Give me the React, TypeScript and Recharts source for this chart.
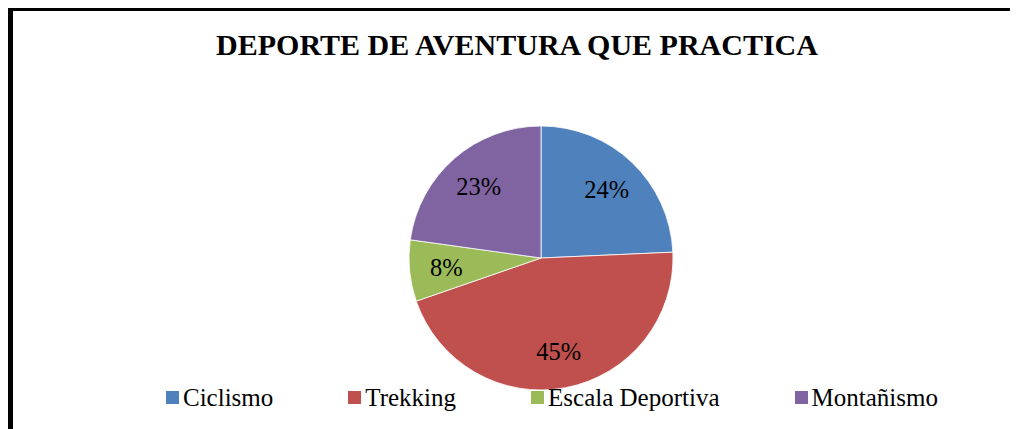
import { PieChart, Pie, Cell, Legend } from 'recharts'

const categories = ['Ciclismo', 'Trekking', 'Escala Deportiva', 'Montañismo']
const shares = [24.3, 45.4, 7.5, 22.8]
const sliceColors = ['#4F81BD', '#C0504D', '#9BBB59', '#8064A2']

const title = 'DEPORTE DE AVENTURA QUE PRACTICA'
const FONT = '"Liberation Serif", "Times New Roman", serif'

const data = categories.map((name, i) => ({ name, value: shares[i] }))

const RAD = Math.PI / 180

function renderLabel(props: any) {
  const { cx, cy, midAngle, outerRadius, percent } = props
  const r = outerRadius * 0.72
  const x = cx + r * Math.cos(-midAngle * RAD)
  const y = cy + r * Math.sin(-midAngle * RAD)
  return (
    <text
      x={x}
      y={y}
      dy="0.35em"
      textAnchor="middle"
      fill="#000"
      style={{ fontFamily: FONT, fontSize: 24.5 }}
    >
      {Math.round(percent * 100)}%
    </text>
  )
}

function renderLegend(props: any) {
  const { payload } = props
  return (
    <div style={{ display: 'flex', alignItems: 'center', paddingLeft: 158, gap: 75 }}>
      {payload.map((entry: any) => (
        <div key={entry.value} style={{ display: 'flex', alignItems: 'center' }}>
          <span style={{ width: 13, height: 13, background: entry.color, marginRight: 4 }} />
          <span style={{ fontFamily: FONT, fontSize: 25, lineHeight: '25px', color: '#000' }}>
            {entry.value}
          </span>
        </div>
      ))}
    </div>
  )
}

export default function App() {
  return (
    <div style={{ position: 'relative', width: 1010, height: 421, background: '#fff', overflow: 'hidden' }}>
      <PieChart
        width={1010}
        height={421}
        margin={{ top: 0, right: 0, bottom: 0, left: 0 }}
        style={{ position: 'absolute', left: 0, top: 0 }}
      >
        <Pie
          data={data}
          dataKey="value"
          nameKey="name"
          cx={533}
          cy={250}
          outerRadius={132}
          startAngle={90}
          endAngle={-270}
          stroke="#ffffff"
          strokeWidth={0.8}
          label={renderLabel}
          labelLine={false}
          isAnimationActive={false}
        >
          {data.map((d, i) => (
            <Cell key={d.name} fill={sliceColors[i]} />
          ))}
        </Pie>
        <Legend
          content={renderLegend}
          itemSorter={(item: any) => categories.indexOf(item.value)}
          wrapperStyle={{ left: 0, top: 377, width: 1010, bottom: 'auto' }}
        />
      </PieChart>
      <div
        style={{
          position: 'absolute',
          left: 0,
          top: 21.9,
          width: 1018,
          textAlign: 'center',
          fontFamily: FONT,
          fontWeight: 'bold',
          fontSize: 30,
          lineHeight: '30px',
          color: '#000',
        }}
      >
        {title}
      </div>
      <div style={{ position: 'absolute', left: 0, top: 0, width: 1010, height: 3, background: '#000' }} />
      <div style={{ position: 'absolute', left: 0, top: 0, width: 5, height: 421, background: '#000' }} />
    </div>
  )
}
